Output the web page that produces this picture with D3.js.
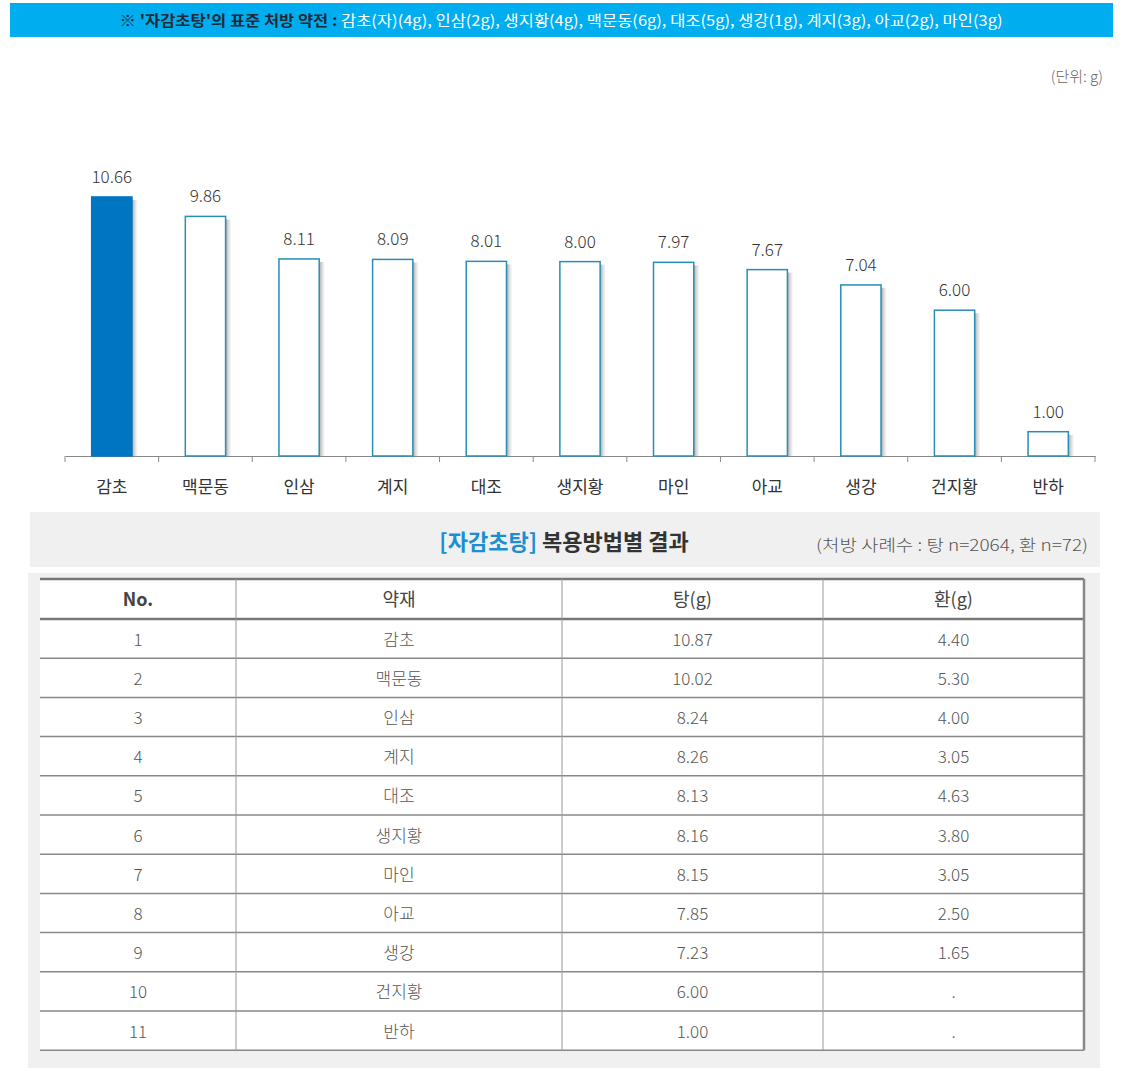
<!DOCTYPE html>
<html>
<head>
<meta charset="utf-8">
<script src="https://cdn.jsdelivr.net/npm/d3@7"></script>
<style>
	body { margin: 0; background: #fff; }
	svg text { font-family: "Noto Sans CJK KR", "Noto Sans", sans-serif; }
</style>
</head>
<body>
<div id="chart"></div>
<script>
//Data
var herbs = ["감초", "맥문동", "인삼", "계지", "대조", "생지황", "마인", "아교", "생강", "건지황", "반하"];
var doses = [10.66, 9.86, 8.11, 8.09, 8.01, 8.00, 7.97, 7.67, 7.04, 6.00, 1.00];
var tangDoses = ["10.87", "10.02", "8.24", "8.26", "8.13", "8.16", "8.15", "7.85", "7.23", "6.00", "1.00"];
var hwanDoses = ["4.40", "5.30", "4.00", "3.05", "4.63", "3.80", "3.05", "2.50", "1.65", ".", "."];
var tableHeaders = ["No.", "약재", "탕(g)", "환(g)"];
var standardRx = ["감초(자)(4g)", "인삼(2g)", "생지황(4g)", "맥문동(6g)", "대조(5g)", "생강(1g)", "계지(3g)", "아교(2g)", "마인(3g)"];

var width = 1140, height = 1086;
var svg = d3.select('#chart').append('svg')
	.attr('width', width)
	.attr('height', height);

var defs = svg.append('defs');
var grad = defs.append('linearGradient').attr('id', 'shadow');
grad.append('stop').attr('offset', '0%').attr('stop-color', '#8a8a8a').attr('stop-opacity', 0.75);
grad.append('stop').attr('offset', '100%').attr('stop-color', '#bbb').attr('stop-opacity', 0);

//Top banner
svg.append('rect')
	.attr('x', 10).attr('y', 3)
	.attr('width', 1103).attr('height', 34)
	.attr('fill', '#00aeef');
var banner = svg.append('text')
	.attr('x', 561).attr('y', 26)
	.attr('text-anchor', 'middle')
	.attr('font-size', 15)
	.attr('font-weight', 'bold')
	.attr('textLength', 883)
	.attr('lengthAdjust', 'spacingAndGlyphs');
banner.append('tspan').attr('fill', '#1d2a3a').text("※ '자감초탕'의 표준 처방 약전 : ");
banner.append('tspan').attr('fill', '#fff').attr('font-weight', 'normal').text(standardRx.join(', '));

//Unit
svg.append('text')
	.attr('x', 1103).attr('y', 82)
	.attr('text-anchor', 'end')
	.attr('font-size', 15)
	.attr('font-weight', 300)
	.attr('fill', '#666')
	.text('(단위: g)');

//Bar chart
var baseY = 456;
var x = d3.scaleBand().domain(herbs).range([65, 1095]).paddingInner(0.57).paddingOuter(0.285);
var y = d3.scaleLinear().domain([0, 11]).range([baseY, baseY - 24.3 * 11]);

var axis = svg.append('g')
	.attr('transform', 'translate(0,' + baseY + ')')
	.call(d3.axisBottom(x).tickSize(0).tickPadding(25));
axis.select('.domain').attr('stroke', '#888');
axis.selectAll('.tick text')
	.attr('font-size', 17)
	.attr('fill', '#333')
	.attr('font-family', '"Noto Sans CJK KR", sans-serif');

//Band boundary ticks
var step = x.step();
var bounds = d3.range(herbs.length + 1).map(function(i) { return 65 + i * step; });
svg.append('g').selectAll('line')
	.data(bounds)
	.enter().append('line')
		.attr('x1', function(d) { return d; })
		.attr('x2', function(d) { return d; })
		.attr('y1', baseY)
		.attr('y2', baseY + 6)
		.attr('stroke', '#888');

var bars = svg.append('g').selectAll('g')
	.data(herbs)
	.enter().append('g');

bars.append('rect')
	.attr('x', function(d) { return x(d) + x.bandwidth(); })
	.attr('y', function(d, i) { return y(doses[i]) + 3; })
	.attr('width', 6)
	.attr('height', function(d, i) { return baseY - y(doses[i]) - 3; })
	.attr('fill', 'url(#shadow)');

bars.append('rect')
	.attr('x', function(d) { return x(d); })
	.attr('y', function(d, i) { return y(doses[i]); })
	.attr('width', x.bandwidth())
	.attr('height', function(d, i) { return baseY - y(doses[i]); })
	.attr('fill', function(d, i) { return i === 0 ? '#0075c2' : '#fff'; })
	.attr('stroke', function(d, i) { return i === 0 ? '#0075c2' : '#2a8db5'; })
	.attr('stroke-width', 1.5);

bars.append('text')
	.attr('x', function(d) { return x(d) + x.bandwidth() / 2; })
	.attr('y', function(d, i) { return y(doses[i]) - 14; })
	.attr('text-anchor', 'middle')
	.attr('font-size', 17)
	.attr('font-weight', 300)
	.attr('fill', '#333')
	.text(function(d, i) { return doses[i].toFixed(2); });

//Table section background
svg.append('rect')
	.attr('x', 30).attr('y', 512)
	.attr('width', 1070).attr('height', 55)
	.attr('fill', '#f0f0f0');
svg.append('rect')
	.attr('x', 28).attr('y', 573)
	.attr('width', 1072).attr('height', 495)
	.attr('fill', '#f0f0f0');

var title = svg.append('text')
	.attr('x', 564).attr('y', 550)
	.attr('text-anchor', 'middle')
	.attr('font-size', 22)
	.attr('font-weight', 'bold');
title.append('tspan').attr('fill', '#1b8fd2').text('[자감초탕] ');
title.append('tspan').attr('fill', '#333').text('복용방법별 결과');

svg.append('text')
	.attr('x', 1088).attr('y', 551)
	.attr('text-anchor', 'end')
	.attr('font-size', 16)
	.attr('font-weight', 300)
	.attr('fill', '#555')
	.attr('textLength', 272)
	.attr('lengthAdjust', 'spacingAndGlyphs')
	.text('(처방 사례수 : 탕 n=2064, 환 n=72)');

//Table
var colEdges = [40, 236, 562, 823, 1084];
var headerTop = 579, headerH = 40, rowH = 39.2;
var tableBottom = headerTop + headerH + rowH * herbs.length;

svg.append('rect')
	.attr('x', colEdges[0]).attr('y', headerTop)
	.attr('width', colEdges[4] - colEdges[0])
	.attr('height', tableBottom - headerTop)
	.attr('fill', '#fff');

var colCenters = d3.range(4).map(function(i) { return (colEdges[i] + colEdges[i + 1]) / 2; });

svg.append('g').selectAll('text')
	.data(tableHeaders)
	.enter().append('text')
		.attr('x', function(d, i) { return colCenters[i]; })
		.attr('y', headerTop + headerH / 2 + 7)
		.attr('text-anchor', 'middle')
		.attr('font-size', 18)
		.attr('font-weight', function(d, i) { return i === 0 ? 'bold' : 'normal'; })
		.attr('fill', '#444')
		.text(function(d) { return d; });

var rows = svg.append('g').selectAll('g')
	.data(herbs)
	.enter().append('g')
		.attr('transform', function(d, i) { return 'translate(0,' + (headerTop + headerH + i * rowH) + ')'; });

rows.selectAll('text')
	.data(function(d, i) { return [String(i + 1), d, tangDoses[i], hwanDoses[i]]; })
	.enter().append('text')
		.attr('x', function(d, i) { return colCenters[i]; })
		.attr('y', rowH / 2 + 7)
		.attr('text-anchor', 'middle')
		.attr('font-size', 17)
		.attr('font-weight', 300)
		.attr('fill', '#555')
		.text(function(d) { return d; });

//Horizontal rules
var ruleYs = [headerTop, headerTop + headerH].concat(herbs.map(function(d, i) { return headerTop + headerH + (i + 1) * rowH; }));
svg.append('g').selectAll('line')
	.data(ruleYs)
	.enter().append('line')
		.attr('x1', colEdges[0]).attr('x2', colEdges[4])
		.attr('y1', function(d) { return d; })
		.attr('y2', function(d) { return d; })
		.attr('stroke', function(d, i) { return i < 2 ? '#777' : '#888'; })
		.attr('stroke-width', function(d, i) { return i < 2 ? 2.5 : 1.5; });

//Vertical rules
svg.append('g').selectAll('line')
	.data(colEdges.slice(1))
	.enter().append('line')
		.attr('x1', function(d) { return d; })
		.attr('x2', function(d) { return d; })
		.attr('y1', headerTop)
		.attr('y2', tableBottom)
		.attr('stroke', function(d, i) { return i === 3 ? '#888' : '#999'; })
		.attr('stroke-width', function(d, i) { return i === 3 ? 2.5 : 1; });
</script>
</body>
</html>
